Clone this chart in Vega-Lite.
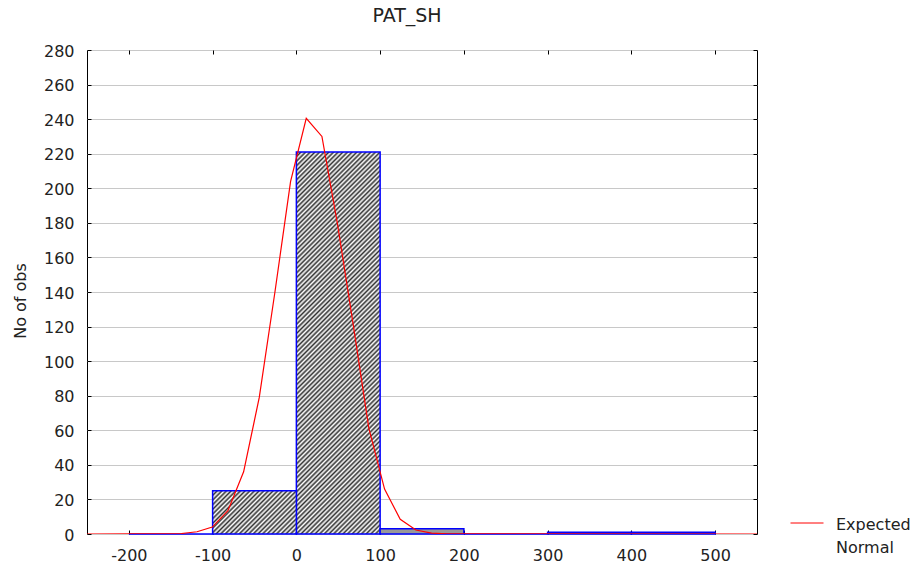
{
  "$schema": "https://vega.github.io/schema/vega-lite/v6.json",
  "width": 670,
  "height": 484,
  "autosize": {"type": "none"},
  "padding": {"left": 87, "top": 50, "right": 159, "bottom": 33},
  "title": {"text": "PAT_SH", "fontSize": 19, "font": "DejaVu Sans", "fontWeight": "normal", "color": "#222", "anchor": "middle", "frame": "group", "dx": -15, "baseline": "alphabetic", "offset": 2},
  "datasets": {
    "bars": [
      {"bin": -200, "bin_end": -100, "count": 0},
      {"bin": -100, "bin_end": 0, "count": 25},
      {"bin": 0, "bin_end": 100, "count": 221},
      {"bin": 100, "bin_end": 200, "count": 3},
      {"bin": 200, "bin_end": 300, "count": 0},
      {"bin": 300, "bin_end": 400, "count": 1},
      {"bin": 400, "bin_end": 500, "count": 1}
    ],
    "curve": [
      {"x": -250, "y": 0},
      {"x": -137.2, "y": 0.3},
      {"x": -118.6, "y": 1.3},
      {"x": -100.4, "y": 4},
      {"x": -81.7, "y": 13.5},
      {"x": -63, "y": 36},
      {"x": -44.3, "y": 79},
      {"x": -25.6, "y": 140},
      {"x": -6.9, "y": 204},
      {"x": 11.8, "y": 240.5},
      {"x": 30.5, "y": 230},
      {"x": 49.2, "y": 179},
      {"x": 67.9, "y": 121},
      {"x": 86.6, "y": 61},
      {"x": 105.3, "y": 26},
      {"x": 124, "y": 8.5},
      {"x": 142.7, "y": 2.3},
      {"x": 161.4, "y": 0.5},
      {"x": 180, "y": 0.1},
      {"x": 550, "y": 0}
    ]
  },
  "layer": [
    {
      "data": {"name": "bars"},
      "transform": [{"filter": "datum.count > 100"}],
      "mark": {
        "type": "bar",
        "stroke": "#0000ff",
        "strokeWidth": 1.5,
        "fill": {
          "gradient": "linear", "x1": 0, "y1": 0, "x2": 0.2551, "y2": 1.1633,
          "stops": [
            {"offset":0,"color":"#333"},{"offset":0.005,"color":"#fff"},{"offset":0.01,"color":"#333"},{"offset":0.015,"color":"#fff"},{"offset":0.02,"color":"#333"},{"offset":0.025,"color":"#fff"},{"offset":0.03,"color":"#333"},{"offset":0.035,"color":"#fff"},{"offset":0.04,"color":"#333"},{"offset":0.045,"color":"#fff"},
            {"offset":0.05,"color":"#333"},{"offset":0.055,"color":"#fff"},{"offset":0.06,"color":"#333"},{"offset":0.065,"color":"#fff"},{"offset":0.07,"color":"#333"},{"offset":0.075,"color":"#fff"},{"offset":0.08,"color":"#333"},{"offset":0.085,"color":"#fff"},{"offset":0.09,"color":"#333"},{"offset":0.095,"color":"#fff"},
            {"offset":0.1,"color":"#333"},{"offset":0.105,"color":"#fff"},{"offset":0.11,"color":"#333"},{"offset":0.115,"color":"#fff"},{"offset":0.12,"color":"#333"},{"offset":0.125,"color":"#fff"},{"offset":0.13,"color":"#333"},{"offset":0.135,"color":"#fff"},{"offset":0.14,"color":"#333"},{"offset":0.145,"color":"#fff"},
            {"offset":0.15,"color":"#333"},{"offset":0.155,"color":"#fff"},{"offset":0.16,"color":"#333"},{"offset":0.165,"color":"#fff"},{"offset":0.17,"color":"#333"},{"offset":0.175,"color":"#fff"},{"offset":0.18,"color":"#333"},{"offset":0.185,"color":"#fff"},{"offset":0.19,"color":"#333"},{"offset":0.195,"color":"#fff"},
            {"offset":0.2,"color":"#333"},{"offset":0.205,"color":"#fff"},{"offset":0.21,"color":"#333"},{"offset":0.215,"color":"#fff"},{"offset":0.22,"color":"#333"},{"offset":0.225,"color":"#fff"},{"offset":0.23,"color":"#333"},{"offset":0.235,"color":"#fff"},{"offset":0.24,"color":"#333"},{"offset":0.245,"color":"#fff"},
            {"offset":0.25,"color":"#333"},{"offset":0.255,"color":"#fff"},{"offset":0.26,"color":"#333"},{"offset":0.265,"color":"#fff"},{"offset":0.27,"color":"#333"},{"offset":0.275,"color":"#fff"},{"offset":0.28,"color":"#333"},{"offset":0.285,"color":"#fff"},{"offset":0.29,"color":"#333"},{"offset":0.295,"color":"#fff"},
            {"offset":0.3,"color":"#333"},{"offset":0.305,"color":"#fff"},{"offset":0.31,"color":"#333"},{"offset":0.315,"color":"#fff"},{"offset":0.32,"color":"#333"},{"offset":0.325,"color":"#fff"},{"offset":0.33,"color":"#333"},{"offset":0.335,"color":"#fff"},{"offset":0.34,"color":"#333"},{"offset":0.345,"color":"#fff"},
            {"offset":0.35,"color":"#333"},{"offset":0.355,"color":"#fff"},{"offset":0.36,"color":"#333"},{"offset":0.365,"color":"#fff"},{"offset":0.37,"color":"#333"},{"offset":0.375,"color":"#fff"},{"offset":0.38,"color":"#333"},{"offset":0.385,"color":"#fff"},{"offset":0.39,"color":"#333"},{"offset":0.395,"color":"#fff"},
            {"offset":0.4,"color":"#333"},{"offset":0.405,"color":"#fff"},{"offset":0.41,"color":"#333"},{"offset":0.415,"color":"#fff"},{"offset":0.42,"color":"#333"},{"offset":0.425,"color":"#fff"},{"offset":0.43,"color":"#333"},{"offset":0.435,"color":"#fff"},{"offset":0.44,"color":"#333"},{"offset":0.445,"color":"#fff"},
            {"offset":0.45,"color":"#333"},{"offset":0.455,"color":"#fff"},{"offset":0.46,"color":"#333"},{"offset":0.465,"color":"#fff"},{"offset":0.47,"color":"#333"},{"offset":0.475,"color":"#fff"},{"offset":0.48,"color":"#333"},{"offset":0.485,"color":"#fff"},{"offset":0.49,"color":"#333"},{"offset":0.495,"color":"#fff"},
            {"offset":0.5,"color":"#333"},{"offset":0.505,"color":"#fff"},{"offset":0.51,"color":"#333"},{"offset":0.515,"color":"#fff"},{"offset":0.52,"color":"#333"},{"offset":0.525,"color":"#fff"},{"offset":0.53,"color":"#333"},{"offset":0.535,"color":"#fff"},{"offset":0.54,"color":"#333"},{"offset":0.545,"color":"#fff"},
            {"offset":0.55,"color":"#333"},{"offset":0.555,"color":"#fff"},{"offset":0.56,"color":"#333"},{"offset":0.565,"color":"#fff"},{"offset":0.57,"color":"#333"},{"offset":0.575,"color":"#fff"},{"offset":0.58,"color":"#333"},{"offset":0.585,"color":"#fff"},{"offset":0.59,"color":"#333"},{"offset":0.595,"color":"#fff"},
            {"offset":0.6,"color":"#333"},{"offset":0.605,"color":"#fff"},{"offset":0.61,"color":"#333"},{"offset":0.615,"color":"#fff"},{"offset":0.62,"color":"#333"},{"offset":0.625,"color":"#fff"},{"offset":0.63,"color":"#333"},{"offset":0.635,"color":"#fff"},{"offset":0.64,"color":"#333"},{"offset":0.645,"color":"#fff"},
            {"offset":0.65,"color":"#333"},{"offset":0.655,"color":"#fff"},{"offset":0.66,"color":"#333"},{"offset":0.665,"color":"#fff"},{"offset":0.67,"color":"#333"},{"offset":0.675,"color":"#fff"},{"offset":0.68,"color":"#333"},{"offset":0.685,"color":"#fff"},{"offset":0.69,"color":"#333"},{"offset":0.695,"color":"#fff"},
            {"offset":0.7,"color":"#333"},{"offset":0.705,"color":"#fff"},{"offset":0.71,"color":"#333"},{"offset":0.715,"color":"#fff"},{"offset":0.72,"color":"#333"},{"offset":0.725,"color":"#fff"},{"offset":0.73,"color":"#333"},{"offset":0.735,"color":"#fff"},{"offset":0.74,"color":"#333"},{"offset":0.745,"color":"#fff"},
            {"offset":0.75,"color":"#333"},{"offset":0.755,"color":"#fff"},{"offset":0.76,"color":"#333"},{"offset":0.765,"color":"#fff"},{"offset":0.77,"color":"#333"},{"offset":0.775,"color":"#fff"},{"offset":0.78,"color":"#333"},{"offset":0.785,"color":"#fff"},{"offset":0.79,"color":"#333"},{"offset":0.795,"color":"#fff"},
            {"offset":0.8,"color":"#333"},{"offset":0.805,"color":"#fff"},{"offset":0.81,"color":"#333"},{"offset":0.815,"color":"#fff"},{"offset":0.82,"color":"#333"},{"offset":0.825,"color":"#fff"},{"offset":0.83,"color":"#333"},{"offset":0.835,"color":"#fff"},{"offset":0.84,"color":"#333"},{"offset":0.845,"color":"#fff"},
            {"offset":0.85,"color":"#333"},{"offset":0.855,"color":"#fff"},{"offset":0.86,"color":"#333"},{"offset":0.865,"color":"#fff"},{"offset":0.87,"color":"#333"},{"offset":0.875,"color":"#fff"},{"offset":0.88,"color":"#333"},{"offset":0.885,"color":"#fff"},{"offset":0.89,"color":"#333"},{"offset":0.895,"color":"#fff"},
            {"offset":0.9,"color":"#333"},{"offset":0.905,"color":"#fff"},{"offset":0.91,"color":"#333"},{"offset":0.915,"color":"#fff"},{"offset":0.92,"color":"#333"},{"offset":0.925,"color":"#fff"},{"offset":0.93,"color":"#333"},{"offset":0.935,"color":"#fff"},{"offset":0.94,"color":"#333"},{"offset":0.945,"color":"#fff"},
            {"offset":0.95,"color":"#333"},{"offset":0.955,"color":"#fff"},{"offset":0.96,"color":"#333"},{"offset":0.965,"color":"#fff"},{"offset":0.97,"color":"#333"},{"offset":0.975,"color":"#fff"},{"offset":0.98,"color":"#333"},{"offset":0.985,"color":"#fff"},{"offset":0.99,"color":"#333"},{"offset":0.995,"color":"#fff"},
            {"offset":1,"color":"#333"}
          ]
        }
      },
      "encoding": {
        "x": {"field": "bin", "type": "quantitative", "scale": {"domain": [-250, 550], "nice": false, "zero": false},
          "axis": {"orient": "bottom", "values": [-200, -100, 0, 100, 200, 300, 400, 500], "labelExpr": "toString(datum.value)", "tickSize": -4, "labelPadding": 17, "grid": false, "domain": false, "title": null, "labelFlush": false, "labelOverlap": false}},
        "x2": {"field": "bin_end"},
        "y": {"field": "count", "type": "quantitative", "scale": {"domain": [0, 280], "nice": false},
          "axis": {"orient": "left", "values": [0, 20, 40, 60, 80, 100, 120, 140, 160, 180, 200, 220, 240, 260, 280], "tickSize": -4, "labelPadding": 17, "labelOffset": 1, "grid": true, "gridColor": "#c8c8c8", "gridWidth": 1, "domain": false, "title": "No of obs", "titleX": -62, "titleY": 250.5, "titleAngle": 270, "titleBaseline": "alphabetic", "titleAlign": "center", "labelFlush": false, "labelOverlap": false}},
        "y2": {"datum": 0}
      }
    },
    {
      "data": {"name": "bars"},
      "transform": [{"filter": "datum.count >= 20 && datum.count <= 100"}],
      "mark": {
        "type": "bar",
        "stroke": "#0000ff",
        "strokeWidth": 1.5,
        "fill": {
          "gradient": "linear", "x1": 0, "y1": 0, "x2": 2.196, "y2": 1.1327,
          "stops": [
            {"offset":0,"color":"#333"},{"offset":0.01,"color":"#fff"},{"offset":0.02,"color":"#333"},{"offset":0.03,"color":"#fff"},{"offset":0.04,"color":"#333"},{"offset":0.05,"color":"#fff"},{"offset":0.06,"color":"#333"},{"offset":0.07,"color":"#fff"},{"offset":0.08,"color":"#333"},{"offset":0.09,"color":"#fff"},
            {"offset":0.1,"color":"#333"},{"offset":0.11,"color":"#fff"},{"offset":0.12,"color":"#333"},{"offset":0.13,"color":"#fff"},{"offset":0.14,"color":"#333"},{"offset":0.15,"color":"#fff"},{"offset":0.16,"color":"#333"},{"offset":0.17,"color":"#fff"},{"offset":0.18,"color":"#333"},{"offset":0.19,"color":"#fff"},
            {"offset":0.2,"color":"#333"},{"offset":0.21,"color":"#fff"},{"offset":0.22,"color":"#333"},{"offset":0.23,"color":"#fff"},{"offset":0.24,"color":"#333"},{"offset":0.25,"color":"#fff"},{"offset":0.26,"color":"#333"},{"offset":0.27,"color":"#fff"},{"offset":0.28,"color":"#333"},{"offset":0.29,"color":"#fff"},
            {"offset":0.3,"color":"#333"},{"offset":0.31,"color":"#fff"},{"offset":0.32,"color":"#333"},{"offset":0.33,"color":"#fff"},{"offset":0.34,"color":"#333"},{"offset":0.35,"color":"#fff"},{"offset":0.36,"color":"#333"},{"offset":0.37,"color":"#fff"},{"offset":0.38,"color":"#333"},{"offset":0.39,"color":"#fff"},
            {"offset":0.4,"color":"#333"},{"offset":0.41,"color":"#fff"},{"offset":0.42,"color":"#333"},{"offset":0.43,"color":"#fff"},{"offset":0.44,"color":"#333"},{"offset":0.45,"color":"#fff"},{"offset":0.46,"color":"#333"},{"offset":0.47,"color":"#fff"},{"offset":0.48,"color":"#333"},{"offset":0.49,"color":"#fff"},
            {"offset":0.5,"color":"#333"},{"offset":0.51,"color":"#fff"},{"offset":0.52,"color":"#333"},{"offset":0.53,"color":"#fff"},{"offset":0.54,"color":"#333"},{"offset":0.55,"color":"#fff"},{"offset":0.56,"color":"#333"}
          ]
        }
      },
      "encoding": {
        "x": {"field": "bin", "type": "quantitative", "axis": null},
        "x2": {"field": "bin_end"},
        "y": {"field": "count", "type": "quantitative", "axis": null},
        "y2": {"datum": 0}
      }
    },
    {
      "data": {"name": "bars"},
      "transform": [{"filter": "datum.count < 20"}],
      "mark": {"type": "bar", "stroke": "#0000ff", "strokeWidth": 1.5, "fill": "#999999"},
      "encoding": {
        "x": {"field": "bin", "type": "quantitative", "axis": null},
        "x2": {"field": "bin_end"},
        "y": {"field": "count", "type": "quantitative", "axis": null},
        "y2": {"datum": 0}
      }
    },
    {
      "data": {"name": "curve"},
      "mark": {"type": "line", "strokeWidth": 1.2, "clip": true},
      "encoding": {
        "x": {"field": "x", "type": "quantitative",
          "axis": {"orient": "top", "values": [-200, -100, 0, 100, 200, 300, 400, 500], "tickSize": -4, "labels": false, "grid": false, "domain": false, "title": null}},
        "y": {"field": "y", "type": "quantitative",
          "axis": {"orient": "right", "values": [0, 20, 40, 60, 80, 100, 120, 140, 160, 180, 200, 220, 240, 260, 280], "tickSize": -4, "labels": false, "grid": false, "domain": false, "title": null}},
        "color": {"datum": "Expected Normal", "type": "nominal", "scale": {"range": ["#ff0000"]},
          "legend": {"orient": "none", "legendX": 703, "legendY": 463, "title": null, "labelExpr": "['Expected', 'Normal']", "labelBaseline": "alphabetic", "labelFontSize": 16, "labelColor": "#222", "labelOffset": 12, "symbolType": "M-1,-0.424L1,-0.424", "symbolSize": 1089, "symbolStrokeWidth": 1, "symbolFillColor": "transparent", "padding": 0, "labelLimit": 300}}
      }
    }
  ],
  "resolve": {"axis": {"x": "independent", "y": "independent"}},
  "config": {
    "font": "DejaVu Sans",
    "view": {"stroke": "#000000", "strokeWidth": 1},
    "style": {"guide-label": {"lineHeight": 23}},
    "axis": {"labelFont": "DejaVu Sans", "labelFontSize": 16, "labelColor": "#222", "tickColor": "#000", "tickWidth": 1, "titleFont": "DejaVu Sans", "titleFontSize": 16, "titleFontWeight": "normal", "titleColor": "#222"},
    "legend": {"labelFont": "DejaVu Sans"}
  }
}
